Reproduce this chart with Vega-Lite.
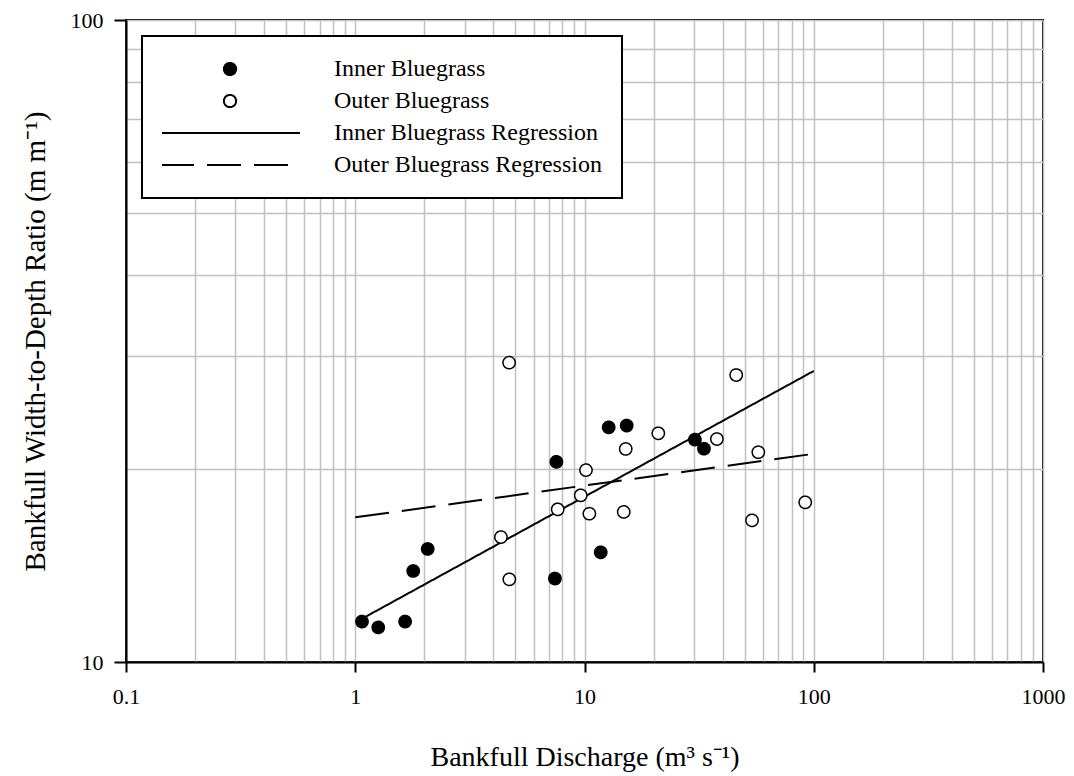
{
  "$schema": "https://vega.github.io/schema/vega-lite/v6.json",
  "width": 917,
  "height": 642,
  "autosize": {"type": "none"},
  "padding": {"left": 126, "top": 20, "right": 31, "bottom": 114},
  "background": "white",
  "config": {
    "view": {"stroke": "black", "strokeWidth": 2},
    "font": "Liberation Serif",
    "axis": {
      "domainColor": "black",
      "domainWidth": 2,
      "tickColor": "black",
      "tickWidth": 2,
      "gridColor": "#c0c0c0",
      "gridWidth": 1.5,
      "gridOpacity": 1,
      "labelFont": "Liberation Serif",
      "labelFontSize": 22,
      "labelColor": "black",
      "labelOverlap": false,
      "labelFlush": false,
      "titleFont": "Liberation Serif",
      "titleFontSize": 28,
      "titleFontWeight": "normal",
      "titleColor": "black"
    }
  },
  "datasets": {
    "points": [
      {"series": "Inner Bluegrass", "Q": 1.07, "WD": 11.56},
      {"series": "Inner Bluegrass", "Q": 1.26, "WD": 11.32},
      {"series": "Inner Bluegrass", "Q": 1.65, "WD": 11.56},
      {"series": "Inner Bluegrass", "Q": 1.79, "WD": 13.86},
      {"series": "Inner Bluegrass", "Q": 2.07, "WD": 15.0},
      {"series": "Inner Bluegrass", "Q": 7.54, "WD": 20.5},
      {"series": "Inner Bluegrass", "Q": 7.43, "WD": 13.49},
      {"series": "Inner Bluegrass", "Q": 11.77, "WD": 14.82},
      {"series": "Inner Bluegrass", "Q": 12.75, "WD": 23.2},
      {"series": "Inner Bluegrass", "Q": 15.28, "WD": 23.35},
      {"series": "Inner Bluegrass", "Q": 30.3, "WD": 22.2},
      {"series": "Inner Bluegrass", "Q": 33.2, "WD": 21.49},
      {"series": "Outer Bluegrass", "Q": 4.69, "WD": 29.26},
      {"series": "Outer Bluegrass", "Q": 4.32, "WD": 15.65},
      {"series": "Outer Bluegrass", "Q": 4.7, "WD": 13.45},
      {"series": "Outer Bluegrass", "Q": 7.64, "WD": 17.29},
      {"series": "Outer Bluegrass", "Q": 9.63, "WD": 18.18},
      {"series": "Outer Bluegrass", "Q": 10.15, "WD": 19.9},
      {"series": "Outer Bluegrass", "Q": 10.5, "WD": 17.02},
      {"series": "Outer Bluegrass", "Q": 14.83, "WD": 17.13},
      {"series": "Outer Bluegrass", "Q": 15.13, "WD": 21.47},
      {"series": "Outer Bluegrass", "Q": 20.99, "WD": 22.71},
      {"series": "Outer Bluegrass", "Q": 37.8, "WD": 22.25},
      {"series": "Outer Bluegrass", "Q": 45.9, "WD": 27.99},
      {"series": "Outer Bluegrass", "Q": 57.3, "WD": 21.22},
      {"series": "Outer Bluegrass", "Q": 53.8, "WD": 16.62},
      {"series": "Outer Bluegrass", "Q": 91.8, "WD": 17.73}
    ],
    "regression": [
      {"series": "Inner Bluegrass Regression", "Q": 1.08, "WD": 11.7},
      {"series": "Inner Bluegrass Regression", "Q": 100, "WD": 28.4},
      {"series": "Outer Bluegrass Regression", "Q": 1, "WD": 16.8},
      {"series": "Outer Bluegrass Regression", "Q": 100, "WD": 21.1}
    ]
  },
  "encoding": {
    "x": {
      "field": "Q",
      "type": "quantitative",
      "title": "Bankfull Discharge (m³ s⁻¹)",
      "scale": {"type": "log", "domain": [0.1, 1000], "nice": false},
      "axis": {
        "values": [0.1, 0.2, 0.3, 0.4, 0.5, 0.6, 0.7, 0.8, 0.9, 1, 2, 3, 4, 5, 6, 7, 8, 9, 10, 20, 30, 40, 50, 60, 70, 80, 90, 100, 200, 300, 400, 500, 600, 700, 800, 900, 1000],
        "labelExpr": "indexof([0.1, 1, 10, 100, 1000], datum.value) >= 0 ? format(datum.value, '~g') : ''",
        "tickSize": 10,
        "tickOpacity": {"condition": {"test": "indexof([0.1, 1, 10, 100, 1000], datum.value) >= 0", "value": 1}, "value": 0},
        "labelPadding": 14,
        "titlePadding": 36
      }
    },
    "y": {
      "field": "WD",
      "type": "quantitative",
      "title": "Bankfull Width-to-Depth Ratio (m m⁻¹)",
      "scale": {"type": "log", "domain": [10, 100], "nice": false},
      "axis": {
        "values": [10, 20, 30, 40, 50, 60, 70, 80, 90, 100],
        "labelExpr": "indexof([10, 100], datum.value) >= 0 ? format(datum.value, '~g') : ''",
        "tickSize": 12,
        "tickOpacity": {"condition": {"test": "indexof([10, 100], datum.value) >= 0", "value": 1}, "value": 0},
        "labelPadding": 11,
        "titleFontSize": 29,
        "titlePadding": 20
      }
    }
  },
  "layer": [
    {
      "data": {"name": "regression"},
      "mark": {"type": "line", "stroke": "black", "strokeWidth": 2},
      "encoding": {
        "strokeDash": {
          "field": "series",
          "type": "nominal",
          "scale": {
            "domain": ["Inner Bluegrass", "Outer Bluegrass", "Inner Bluegrass Regression", "Outer Bluegrass Regression"],
            "range": [[1, 0], [1, 0], [1, 0], [34, 13]]
          }
        }
      }
    },
    {
      "data": {"name": "points"},
      "mark": {"type": "point", "shape": "circle", "filled": true, "stroke": "black", "strokeWidth": 1.5, "opacity": 1},
      "encoding": {
        "strokeDash": {
          "field": "series",
          "type": "nominal",
          "scale": {
            "domain": ["Inner Bluegrass", "Outer Bluegrass", "Inner Bluegrass Regression", "Outer Bluegrass Regression"],
            "range": [[1, 0], [1, 0], [1, 0], [34, 13]]
          }
        },
        "shape": {
          "field": "series",
          "type": "nominal",
          "scale": {
            "domain": ["Inner Bluegrass", "Outer Bluegrass", "Inner Bluegrass Regression", "Outer Bluegrass Regression"],
            "range": ["circle", "circle", "stroke", "stroke"]
          }
        },
        "size": {
          "field": "series",
          "type": "nominal",
          "scale": {
            "type": "ordinal",
            "domain": ["Inner Bluegrass", "Outer Bluegrass", "Inner Bluegrass Regression", "Outer Bluegrass Regression"],
            "range": [150, 150, 19600, 19600]
          }
        },
        "fill": {
          "field": "series",
          "type": "nominal",
          "scale": {
            "domain": ["Inner Bluegrass", "Outer Bluegrass", "Inner Bluegrass Regression", "Outer Bluegrass Regression"],
            "range": ["black", "white", "transparent", "transparent"]
          },
          "legend": {
            "title": null,
            "orient": "none",
            "legendX": 16,
            "legendY": 16,
            "padding": 20,
            "strokeColor": "black",
            "fillColor": "white",
            "clipHeight": 26,
            "rowPadding": 6,
            "labelFont": "Liberation Serif",
            "labelFontSize": 24,
            "labelColor": "black",
            "labelLimit": 500,
            "labelOffset": 33,
            "symbolOffset": -3,
            "symbolStrokeColor": "black",
            "symbolStrokeWidth": 2,
            "symbolOpacity": 1,
            "encode": {
              "legend": {"update": {"strokeWidth": {"value": 2}}}
            }
          }
        }
      }
    }
  ]
}
